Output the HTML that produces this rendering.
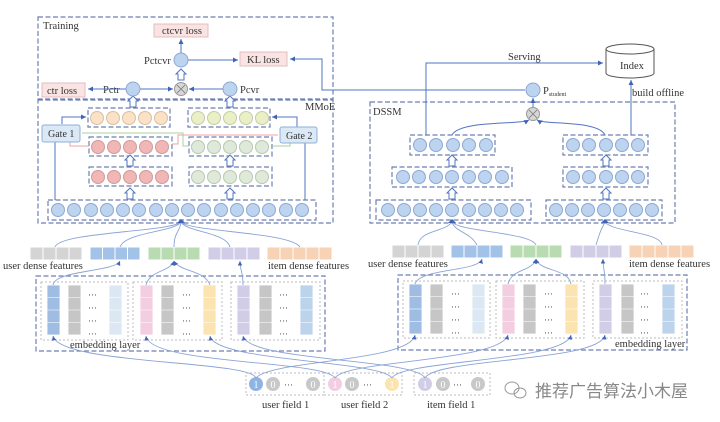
<!DOCTYPE html>
<html><head><meta charset="utf-8"><style>
html,body{margin:0;padding:0;background:#fff;}
svg{display:block;font-family:"Liberation Serif",serif;}
</style></head><body>
<svg width="720" height="422" viewBox="0 0 720 422" xmlns="http://www.w3.org/2000/svg">
<defs>
<marker id="a" markerWidth="6" markerHeight="6" refX="5" refY="3" orient="auto"><path d="M0,0.5 L5,3 L0,5.5z" fill="#3f63b8"/></marker>
</defs>
<g fill="none" stroke="#6d7fb3" stroke-width="1.2" stroke-dasharray="5,2.5">
<rect x="38" y="17" width="295" height="82"/>
<rect x="38" y="100" width="295" height="123"/>
<rect x="370" y="102" width="305" height="121"/>
<rect x="88" y="108" width="82" height="19"/><rect x="188" y="108" width="82" height="19"/>
<rect x="89" y="137" width="83" height="19"/><rect x="189" y="137" width="83" height="19"/>
<rect x="89" y="167" width="83" height="19"/><rect x="189" y="167" width="83" height="19"/>
<rect x="48" y="200" width="268" height="20"/>
<rect x="410" y="135" width="85" height="20"/><rect x="392" y="167" width="120" height="20"/><rect x="376" y="200" width="155" height="20"/>
<rect x="563" y="135" width="85" height="20"/><rect x="563" y="167" width="85" height="20"/><rect x="546" y="200" width="116" height="20"/>
<rect x="36" y="276" width="289" height="75"/>
<rect x="398" y="275" width="289" height="75"/>
</g>
<g fill="none" stroke="#bbb" stroke-width="1" stroke-dasharray="2,2">
<rect x="41" y="282" width="87" height="58"/><rect x="133" y="282" width="89" height="58"/><rect x="231" y="282" width="89" height="58"/>
<rect x="403" y="281" width="87" height="57"/><rect x="496" y="281" width="88" height="57"/><rect x="593" y="281" width="89" height="57"/>
<rect x="246" y="373" width="78" height="22"/><rect x="324" y="373" width="78" height="22"/><rect x="414" y="373" width="76" height="22"/>
</g>
<!-- training -->
<g font-size="10.5" fill="#333">
<text x="43" y="29">Training</text>
<text x="305" y="110">MMoE</text>
<text x="373" y="115">DSSM</text>
</g>
<g stroke="#e3bdbd" fill="#f9e3e3">
<rect x="154" y="24" width="54" height="13"/>
<rect x="240" y="52" width="47" height="14"/>
<rect x="42" y="83" width="43" height="14"/>
</g>
<g font-size="10.5" fill="#333">
<text x="162" y="34">ctcvr loss</text>
<text x="247" y="63">KL loss</text>
<text x="47" y="94">ctr loss</text>
<text x="144" y="64">Pctcvr</text>
<text x="103" y="93">Pctr</text>
<text x="240" y="93">Pcvr</text>
</g>
<g stroke="#4f74c0" stroke-width="1" fill="none">
<line x1="181" y1="53" x2="181" y2="39" marker-end="url(#a)"/>
<line x1="188" y1="60" x2="238" y2="60" marker-end="url(#a)"/>
<line x1="126" y1="89" x2="88" y2="89" marker-end="url(#a)"/>
<line x1="140" y1="89" x2="173" y2="89" marker-end="url(#a)"/>
<line x1="223" y1="89" x2="189" y2="89" marker-end="url(#a)"/>
<polyline points="525,90 322,90 322,59 290,59" marker-end="url(#a)"/>
<polyline points="426,135 426,63 603,63" marker-end="url(#a)"/>
<line x1="631" y1="135" x2="631" y2="80" marker-end="url(#a)"/>
<line x1="533" y1="107" x2="533" y2="98" marker-end="url(#a)"/>
<path d="M452,135 C460,120 520,125 529,120" marker-end="url(#a)"/>
<path d="M605,135 C598,120 545,125 537,120" marker-end="url(#a)"/>
<polyline points="55,200 55,142"/><polyline points="62,124 62,117 86,117" marker-end="url(#a)"/>
<polyline points="305,200 305,142"/><polyline points="297,127 297,117 272,117" marker-end="url(#a)"/>
</g>
<polyline points="172,144 178,144 178,135 278,135" stroke="#f0a0a0" fill="none" stroke-width="1"/>
<polyline points="189,146 183,146 183,133 82,133" stroke="#a8d0a0" fill="none" stroke-width="1"/>
<polyline points="89,146 70,146 70,142" stroke="#f0a0a0" fill="none" stroke-width="1"/>
<polyline points="272,146 290,146 290,142" stroke="#a8d0a0" fill="none" stroke-width="1"/>
<!-- hollow up arrows -->
<g fill="#fff" stroke="#4f74c0" stroke-width="1">
<path d="M181,80 l-3,0 0,-6 -2,0 5,-5 5,5 -2,0 0,6z"/>
<path d="M133,107 l-3,0 0,-6 -2,0 5,-5 5,5 -2,0 0,6z"/>
<path d="M230,107 l-3,0 0,-6 -2,0 5,-5 5,5 -2,0 0,6z"/>
<path d="M130,166 l-3,0 0,-6 -2,0 5,-5 5,5 -2,0 0,6z"/>
<path d="M230,166 l-3,0 0,-6 -2,0 5,-5 5,5 -2,0 0,6z"/>
<path d="M130,199 l-3,0 0,-6 -2,0 5,-5 5,5 -2,0 0,6z"/>
<path d="M230,199 l-3,0 0,-6 -2,0 5,-5 5,5 -2,0 0,6z"/>
<path d="M452,166 l-3,0 0,-6 -2,0 5,-5 5,5 -2,0 0,6z"/>
<path d="M452,199 l-3,0 0,-6 -2,0 5,-5 5,5 -2,0 0,6z"/>
<path d="M606,166 l-3,0 0,-6 -2,0 5,-5 5,5 -2,0 0,6z"/>
<path d="M606,199 l-3,0 0,-6 -2,0 5,-5 5,5 -2,0 0,6z"/>
</g>
<!-- gates -->
<g stroke="#8fb0d8" fill="#dbe8f6"><rect x="42" y="125" width="38" height="17" rx="2"/><rect x="280" y="127" width="37" height="16" rx="2"/></g>
<g font-size="10" fill="#333"><text x="48" y="137">Gate 1</text><text x="286" y="139">Gate 2</text></g>
<!-- circles -->
<g stroke="#8ea8cf" stroke-width="1" fill="#bcd4f0">
<circle cx="181" cy="60" r="7"/><circle cx="133" cy="89" r="7"/><circle cx="230" cy="89" r="7"/><circle cx="533" cy="90" r="7"/>
<circle cx="58" cy="210" r="6.5"/><circle cx="74" cy="210" r="6.5"/><circle cx="91" cy="210" r="6.5"/><circle cx="107" cy="210" r="6.5"/><circle cx="123" cy="210" r="6.5"/><circle cx="139" cy="210" r="6.5"/><circle cx="156" cy="210" r="6.5"/><circle cx="172" cy="210" r="6.5"/><circle cx="188" cy="210" r="6.5"/><circle cx="204" cy="210" r="6.5"/><circle cx="221" cy="210" r="6.5"/><circle cx="237" cy="210" r="6.5"/><circle cx="253" cy="210" r="6.5"/><circle cx="269" cy="210" r="6.5"/><circle cx="286" cy="210" r="6.5"/><circle cx="302" cy="210" r="6.5"/>
<circle cx="420" cy="145" r="6.5"/><circle cx="436" cy="145" r="6.5"/><circle cx="453" cy="145" r="6.5"/><circle cx="469" cy="145" r="6.5"/><circle cx="486" cy="145" r="6.5"/>
<circle cx="403" cy="177" r="6.5"/><circle cx="419" cy="177" r="6.5"/><circle cx="436" cy="177" r="6.5"/><circle cx="452" cy="177" r="6.5"/><circle cx="469" cy="177" r="6.5"/><circle cx="485" cy="177" r="6.5"/><circle cx="502" cy="177" r="6.5"/>
<circle cx="388" cy="210" r="6.5"/><circle cx="404" cy="210" r="6.5"/><circle cx="420" cy="210" r="6.5"/><circle cx="436" cy="210" r="6.5"/><circle cx="452" cy="210" r="6.5"/><circle cx="469" cy="210" r="6.5"/><circle cx="485" cy="210" r="6.5"/><circle cx="501" cy="210" r="6.5"/><circle cx="517" cy="210" r="6.5"/>
<circle cx="573" cy="145" r="6.5"/><circle cx="589" cy="145" r="6.5"/><circle cx="606" cy="145" r="6.5"/><circle cx="622" cy="145" r="6.5"/><circle cx="638" cy="145" r="6.5"/>
<circle cx="573" cy="177" r="6.5"/><circle cx="589" cy="177" r="6.5"/><circle cx="606" cy="177" r="6.5"/><circle cx="622" cy="177" r="6.5"/><circle cx="638" cy="177" r="6.5"/>
<circle cx="556" cy="210" r="6.5"/><circle cx="572" cy="210" r="6.5"/><circle cx="588" cy="210" r="6.5"/><circle cx="604" cy="210" r="6.5"/><circle cx="620" cy="210" r="6.5"/><circle cx="636" cy="210" r="6.5"/><circle cx="652" cy="210" r="6.5"/>
</g>
<g stroke="#d8c0a0" fill="#fbe1c6"><circle cx="97" cy="118" r="6.5"/><circle cx="113" cy="118" r="6.5"/><circle cx="129" cy="118" r="6.5"/><circle cx="145" cy="118" r="6.5"/><circle cx="161" cy="118" r="6.5"/></g>
<g stroke="#c8cca0" fill="#e9efc6"><circle cx="198" cy="118" r="6.5"/><circle cx="214" cy="118" r="6.5"/><circle cx="230" cy="118" r="6.5"/><circle cx="246" cy="118" r="6.5"/><circle cx="262" cy="118" r="6.5"/></g>
<g stroke="#d09a9a" fill="#f1b7b7"><circle cx="98" cy="147" r="6.5"/><circle cx="114" cy="147" r="6.5"/><circle cx="130" cy="147" r="6.5"/><circle cx="146" cy="147" r="6.5"/><circle cx="162" cy="147" r="6.5"/><circle cx="98" cy="177" r="6.5"/><circle cx="114" cy="177" r="6.5"/><circle cx="130" cy="177" r="6.5"/><circle cx="146" cy="177" r="6.5"/><circle cx="162" cy="177" r="6.5"/></g>
<g stroke="#b8c8b0" fill="#dfe9da"><circle cx="198" cy="147" r="6.5"/><circle cx="214" cy="147" r="6.5"/><circle cx="230" cy="147" r="6.5"/><circle cx="246" cy="147" r="6.5"/><circle cx="262" cy="147" r="6.5"/><circle cx="198" cy="177" r="6.5"/><circle cx="214" cy="177" r="6.5"/><circle cx="230" cy="177" r="6.5"/><circle cx="246" cy="177" r="6.5"/><circle cx="262" cy="177" r="6.5"/></g>
<g stroke="#999" fill="#d6d6d6"><circle cx="181" cy="89" r="6.5"/><circle cx="533" cy="114" r="6.5"/></g>
<g stroke="#777" stroke-width="0.8"><path d="M177,85 l8,8 M185,85 l-8,8"/><path d="M529,110 l8,8 M537,110 l-8,8"/></g>
<text x="543" y="94" font-size="10.5" fill="#333">P<tspan font-size="6" dy="2">student</tspan></text>
<!-- index -->
<path d="M606,49 L606,73 A24,5 0 0 0 654,73 L654,49" fill="#fff" stroke="#555"/>
<ellipse cx="630" cy="49" rx="24" ry="5" fill="#fff" stroke="#555"/>
<g font-size="10.5" fill="#333"><text x="620" y="69">Index</text><text x="508" y="60">Serving</text><text x="632" y="96">build offline</text></g>
<!-- dense features -->
<g stroke="#fff" stroke-width="1">
<g fill="#d4d4d4"><rect x="30" y="247" width="13" height="13"/><rect x="43" y="247" width="13" height="13"/><rect x="56" y="247" width="13" height="13"/><rect x="69" y="247" width="13" height="13"/>
<rect x="392" y="245" width="13" height="13"/><rect x="405" y="245" width="13" height="13"/><rect x="418" y="245" width="13" height="13"/><rect x="431" y="245" width="13" height="13"/></g>
<g fill="#a3c2e8"><rect x="90" y="247" width="12.5" height="13"/><rect x="102.5" y="247" width="12.5" height="13"/><rect x="115" y="247" width="12.5" height="13"/><rect x="127.5" y="247" width="12.5" height="13"/>
<rect x="451" y="245" width="13" height="13"/><rect x="464" y="245" width="13" height="13"/><rect x="477" y="245" width="13" height="13"/><rect x="490" y="245" width="13" height="13"/></g>
<g fill="#b9dbb2"><rect x="148" y="247" width="13" height="13"/><rect x="161" y="247" width="13" height="13"/><rect x="174" y="247" width="13" height="13"/><rect x="187" y="247" width="13" height="13"/>
<rect x="510" y="245" width="13" height="13"/><rect x="523" y="245" width="13" height="13"/><rect x="536" y="245" width="13" height="13"/><rect x="549" y="245" width="13" height="13"/></g>
<g fill="#d1cde6"><rect x="208" y="247" width="13" height="13"/><rect x="221" y="247" width="13" height="13"/><rect x="234" y="247" width="13" height="13"/><rect x="247" y="247" width="13" height="13"/>
<rect x="570" y="245" width="13" height="13"/><rect x="583" y="245" width="13" height="13"/><rect x="596" y="245" width="13" height="13"/><rect x="609" y="245" width="13" height="13"/></g>
<g fill="#f8d2b4"><rect x="267" y="247" width="13" height="13"/><rect x="280" y="247" width="13" height="13"/><rect x="293" y="247" width="13" height="13"/><rect x="306" y="247" width="13" height="13"/><rect x="319" y="247" width="13" height="13"/>
<rect x="629" y="245" width="13" height="13"/><rect x="642" y="245" width="13" height="13"/><rect x="655" y="245" width="13" height="13"/><rect x="668" y="245" width="13" height="13"/><rect x="681" y="245" width="13" height="13"/></g>
</g>
<g font-size="10.5" fill="#333">
<text x="3" y="269">user dense features</text><text x="268" y="269">item dense features</text>
<text x="368" y="267">user dense features</text><text x="629" y="267">item dense features</text>
<text x="70" y="348">embedding layer</text><text x="615" y="347">embedding layer</text>
<text x="262" y="408">user field 1</text><text x="341" y="408">user field 2</text><text x="427" y="408">item field 1</text>
</g>
<!-- embedding columns -->
<g stroke="#fff" stroke-width="0.8">
<g fill="#9fbde3"><rect x="47" y="285" width="13" height="50"/><rect x="409" y="284" width="13" height="50"/></g>
<g fill="#c6c6c6"><rect x="68" y="285" width="13" height="50"/><rect x="161" y="285" width="13" height="50"/><rect x="259" y="285" width="13" height="50"/>
<rect x="430" y="284" width="13" height="50"/><rect x="523" y="284" width="13" height="50"/><rect x="621" y="284" width="13" height="50"/></g>
<g fill="#dbe8f4"><rect x="109" y="285" width="13" height="50"/><rect x="472" y="284" width="13" height="50"/></g>
<g fill="#f3cde0"><rect x="140" y="285" width="13" height="50"/><rect x="502" y="284" width="13" height="50"/></g>
<g fill="#fbe4b0"><rect x="203" y="285" width="13" height="50"/><rect x="565" y="284" width="13" height="50"/></g>
<g fill="#d1cde6"><rect x="237" y="285" width="13" height="50"/><rect x="599" y="284" width="13" height="50"/></g>
<g fill="#bcd3ec"><rect x="300" y="285" width="13" height="50"/><rect x="662" y="284" width="13" height="50"/></g>
<path d="M47,297.5h275M47,310h275M47,322.5h275M409,296.5h275M409,309h275M409,321.5h275" stroke="#fff" stroke-opacity="0.7"/>
</g>
<g font-size="9" fill="#444">
<text x="88" y="298">···</text><text x="88" y="311">···</text><text x="88" y="324">···</text><text x="88" y="337">···</text>
<text x="182" y="298">···</text><text x="182" y="311">···</text><text x="182" y="324">···</text><text x="182" y="337">···</text>
<text x="279" y="298">···</text><text x="279" y="311">···</text><text x="279" y="324">···</text><text x="279" y="337">···</text>
<text x="451" y="297">···</text><text x="451" y="310">···</text><text x="451" y="323">···</text><text x="451" y="336">···</text>
<text x="544" y="297">···</text><text x="544" y="310">···</text><text x="544" y="323">···</text><text x="544" y="336">···</text>
<text x="640" y="297">···</text><text x="640" y="310">···</text><text x="640" y="323">···</text><text x="640" y="336">···</text>
</g>
<!-- fields -->
<g font-size="10" fill="#fff" text-anchor="middle">
<circle cx="256" cy="384" r="7" fill="#8fb4e3"/><text x="256" y="388">1</text>
<circle cx="273" cy="384" r="7" fill="#c8c8c8"/><text x="273" y="388">0</text>
<circle cx="313" cy="384" r="7" fill="#c8c8c8"/><text x="313" y="388">0</text>
<circle cx="335" cy="384" r="7" fill="#f3cde0"/><text x="335" y="388">1</text>
<circle cx="352" cy="384" r="7" fill="#c8c8c8"/><text x="352" y="388">0</text>
<circle cx="392" cy="384" r="7" fill="#fbe4b0"/><text x="392" y="388">1</text>
<circle cx="425" cy="384" r="7" fill="#d1cde6"/><text x="425" y="388">1</text>
<circle cx="443" cy="384" r="7" fill="#c8c8c8"/><text x="443" y="388">0</text>
<circle cx="478" cy="384" r="7" fill="#c8c8c8"/><text x="478" y="388">0</text>
</g>
<g font-size="9" fill="#444"><text x="284" y="388">···</text><text x="363" y="388">···</text><text x="453" y="388">···</text></g>
<!-- connectors -->
<g stroke="#8aa4d6" stroke-width="0.9" fill="none">
<path d="M55,247 C60,232 170,232 181,222"/><path d="M120,247 C125,232 175,232 181,222"/><path d="M174,247 C174,232 180,232 181,222"/><path d="M230,247 C226,232 186,232 181,222"/><path d="M300,247 C290,232 190,232 181,222"/>
<path d="M418,245 C420,230 445,232 452,222"/><path d="M477,245 C470,232 455,232 452,222"/><path d="M536,245 C530,232 460,232 452,222"/><path d="M596,245 C600,232 600,232 605,222"/><path d="M662,245 C660,232 612,232 605,222"/>
<path d="M53,285 C55,270 115,272 120,261" marker-end="url(#a)"/><path d="M146,285 C150,270 170,272 174,261" marker-end="url(#a)"/><path d="M210,285 C205,270 180,272 174,261" marker-end="url(#a)"/><path d="M243,285 C243,270 240,272 240,261" marker-end="url(#a)"/>
<path d="M415,284 C420,268 478,272 482,259" marker-end="url(#a)"/><path d="M508,284 C512,268 532,272 536,259" marker-end="url(#a)"/><path d="M571,284 C568,268 540,272 536,259" marker-end="url(#a)"/><path d="M605,284 C605,268 603,270 603,259" marker-end="url(#a)"/>
<path d="M256,378 C250,360 60,365 53,336" marker-end="url(#a)"/><path d="M256,378 C270,360 410,362 415,335" marker-end="url(#a)"/>
<path d="M335,378 C325,360 150,365 146,336" marker-end="url(#a)"/><path d="M335,378 C345,360 500,362 508,335" marker-end="url(#a)"/>
<path d="M392,378 C380,360 215,362 210,336" marker-end="url(#a)"/><path d="M392,378 C400,360 565,362 571,335" marker-end="url(#a)"/>
<path d="M425,378 C415,358 250,362 243,336" marker-end="url(#a)"/><path d="M425,378 C435,358 600,362 605,335" marker-end="url(#a)"/>
</g>
<g fill="#3f63b8"><path d="M177,223 l4,-4 4,4z"/><path d="M448,223 l4,-4 4,4z"/><path d="M601,223 l4,-4 4,4z"/></g>
<!-- watermark -->
<g fill="none" stroke="#999" stroke-width="1"><ellipse cx="512" cy="388" rx="7" ry="6"/><ellipse cx="520" cy="393" rx="6" ry="5"/></g>
<text x="535" y="397" font-size="17" fill="#888" font-family="'Liberation Sans','Noto Sans CJK SC',sans-serif">推荐广告算法小木屋</text>
</svg>
</body></html>
